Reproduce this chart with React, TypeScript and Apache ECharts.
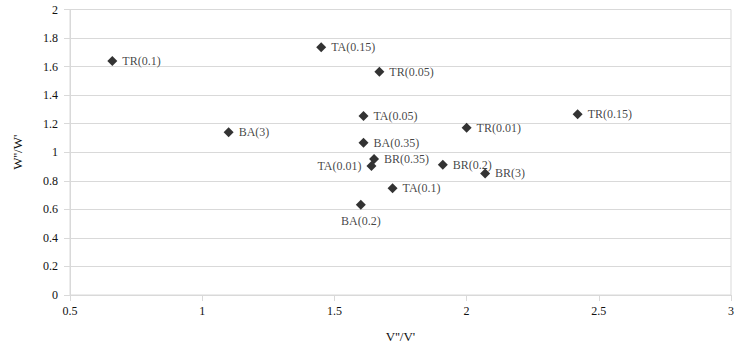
import React, { useEffect, useRef } from "react";
import * as echarts from "echarts";

const pointNames = [
  "TR(0.1)", "BA(3)", "TA(0.15)", "TR(0.05)", "TA(0.05)", "BA(0.35)", "BR(0.35)",
  "TA(0.01)", "BR(0.2)", "BR(3)", "TA(0.1)", "BA(0.2)", "TR(0.01)", "TR(0.15)",
];
const xValues = [0.66, 1.10, 1.45, 1.67, 1.61, 1.61, 1.65, 1.64, 1.91, 2.07, 1.72, 1.60, 2.00, 2.42];
const yValues = [1.64, 1.14, 1.735, 1.564, 1.254, 1.067, 0.953, 0.904, 0.913, 0.852, 0.747, 0.633, 1.172, 1.266];
const labelSides = [
  "right", "right", "right", "right", "right", "right", "right",
  "left", "right", "right", "right", "bottom", "right", "right",
];

const FONT = "Times New Roman";

export default function App() {
  const ref = useRef<HTMLDivElement>(null);
  useEffect(() => {
    document.body.style.margin = "0";
    if (!ref.current) return;
    const chart = echarts.init(ref.current, null, { renderer: "svg" });
    const data = pointNames.map((n, i) => ({
      name: n,
      value: [xValues[i], yValues[i]],
      label: { position: labelSides[i] as any },
    }));
    chart.setOption({
      animation: false,
      textStyle: { fontFamily: FONT },
      grid: {
        left: 70, right: 16, top: 9.5, bottom: 48,
        outerBoundsMode: "none",
        containLabel: false,
        show: true, borderColor: "#d9d9d9", borderWidth: 1,
      },
      xAxis: {
        type: "value", min: 0.5, max: 3, interval: 0.5,
        name: "V''/V'", nameLocation: "middle", nameGap: 35,
        nameTextStyle: { fontFamily: FONT, fontSize: 13, color: "#111" },
        axisLine: { show: true, lineStyle: { color: "#d9d9d9" } },
        axisTick: { show: true, length: 6, lineStyle: { color: "#d9d9d9" } },
        axisLabel: { fontFamily: FONT, fontSize: 12, color: "#111", margin: 10 },
        splitLine: { show: false },
      },
      yAxis: {
        type: "value", min: 0, max: 2, interval: 0.2,
        name: "W''/W'", nameLocation: "middle", nameGap: 46,
        nameTextStyle: { fontFamily: FONT, fontSize: 13, color: "#111" },
        axisLine: { show: true, lineStyle: { color: "#d9d9d9" } },
        axisTick: { show: true, length: 6, lineStyle: { color: "#d9d9d9" } },
        axisLabel: {
          fontFamily: FONT, fontSize: 12, color: "#111", margin: 12,
          formatter: (v: number) => String(Math.round(v * 10) / 10),
        },
        splitLine: { show: true, lineStyle: { color: "#d9d9d9" } },
      },
      series: [
        {
          type: "scatter",
          symbol: "diamond",
          symbolSize: 10,
          itemStyle: { color: "#000" },
          label: {
            show: true,
            formatter: "{b}",
            fontFamily: FONT,
            fontSize: 12,
            color: "#111",
            distance: 5,
          },
          data,
        },
      ],
    });
    return () => chart.dispose();
  }, []);
  return <div ref={ref} style={{ width: 747, height: 343 }} />;
}
